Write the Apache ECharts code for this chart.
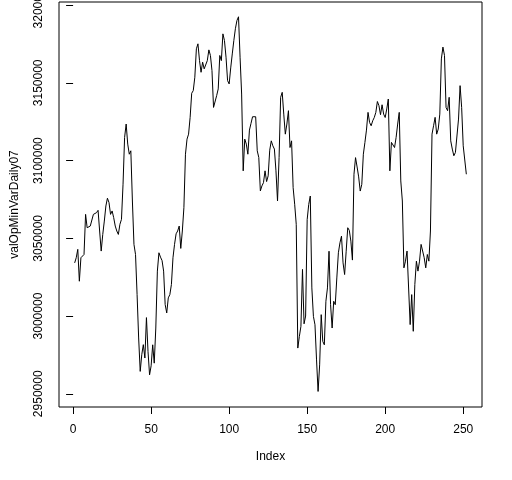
<!DOCTYPE html>
<html>
<head>
<meta charset="utf-8">
<script src="https://cdn.jsdelivr.net/npm/echarts@6/dist/echarts.min.js"></script>
<style>
html, body { margin: 0; padding: 0; background: #fff; }
#main { width: 512px; height: 480px; }
</style>
</head>
<body>
<div id="main"></div>
<script>
// values, index 1..252
let valOpMinVarDaily07 = [
    3034200, 3037500, 3042900, 3022400, 3037500, 3036400, 3039600, 3065400, 3056800, 3055800,
    3057900, 3059000, 3065400, 3065000, 3066500, 3068000, 3054700, 3041800, 3052500, 3061100,
    3070800, 3075800, 3073000, 3065400, 3067600, 3063300, 3057900, 3054700, 3052500, 3059000,
    3062200, 3084800, 3114900, 3123500, 3110600, 3104100, 3106300, 3074000, 3046100, 3039600,
    3013800, 2985900, 2964400, 2975100, 2981600, 2973000, 2999000, 2977300, 2962200, 2968000,
    2981500, 2969700, 2992300, 3028900, 3040700, 3037900, 3035700, 3028900, 3007400, 3002000,
    3011700, 3013800, 3020300, 3037500, 3046100, 3052900, 3054700, 3057900, 3043500, 3054700,
    3069700, 3104100, 3113800, 3117000, 3127800, 3143300, 3145000, 3153600, 3171900, 3175100,
    3164300, 3156800, 3163300, 3159000, 3158300, 3164300, 3171200, 3167600, 3157900, 3134200,
    3134200, 3141800, 3146100, 3167600, 3164300, 3181500, 3177200, 3166500, 3151400, 3149300,
    3159600, 3168600, 3177200, 3184800, 3190100, 3192500, 3166500, 3142800, 3093400, 3113800,
    3110600, 3104100, 3119600, 3123900, 3128200, 3127800, 3128200, 3106300, 3102000, 3080500,
    3083700, 3085800, 3093400, 3086500, 3090200, 3106700, 3112700, 3109500, 3107400, 3093400,
    3074000, 3102000, 3140700, 3143900, 3129900, 3117000, 3123500, 3132100, 3108400, 3112700,
    3082600, 3071900, 3059000, 2979400, 2986900, 2993400, 3030000, 2995000, 3000000, 3062000,
    3071800, 3077200, 3018100, 2999800, 2994400, 2971800, 2951500, 2968600, 3000900, 2983700,
    2981500, 3009500, 3018100, 3041700, 3007300, 2992300, 3009500, 3007300, 3024500, 3040700,
    3047100, 3051400, 3034200, 3026700, 3041700, 3056800, 3055100, 3048200, 3036000, 3091200,
    3101900, 3095900, 3089500, 3080400, 3084700, 3104100, 3111600, 3119600, 3131000, 3124500,
    3122400, 3125600, 3127700, 3131000, 3138000, 3135300, 3129500, 3135900, 3129900, 3127700,
    3133200, 3139600, 3093400, 3111700, 3110600, 3108400, 3114900, 3123500, 3131000, 3086900,
    3074000, 3031000, 3035300, 3041800, 3041800, 2994500, 3013800, 2990200, 3020300, 3035300,
    3028900, 3035300, 3046100, 3045000, 3037500, 3031000, 3039600, 3035300, 3054700, 3117000,
    3122400, 3127800, 3117000, 3120300, 3129900, 3165400, 3173000, 3167600, 3134200, 3132100,
    3140700, 3112700, 3107400, 3103100, 3105200, 3104100, 3126700, 3148200, 3134200, 3109500,
    3109500, 3091200
];
let xTicks = [0, 50, 100, 150, 200, 250];
let yTicks = [2950000, 3000000, 3050000, 3100000, 3150000, 3200000];

let chart = echarts.init(document.getElementById('main'), null, { renderer: 'canvas' });
let seriesData = valOpMinVarDaily07.map((v, k) => [k + 1, v]);
let font = 'Liberation Sans, Arial, sans-serif';

let option = {
    backgroundColor: '#fff',
    animation: false,
    grid: {
        left: 59,
        right: 30,
        top: 2,
        bottom: 73,
        outerBoundsMode: 'none', // keep the box where it is, labels may overflow
        containLabel: false,
        show: true,              // R style box
        borderColor: '#000',
        borderWidth: 1,
        backgroundColor: 'transparent'
    },
    xAxis: {
        type: 'value',
        min: -9.04,
        max: 262.04,
        name: 'Index',
        nameLocation: 'middle',
        nameGap: 44,
        nameTextStyle: { color: '#000', fontSize: 12, fontFamily: font },
        axisLine: { show: false },
        splitLine: { show: false },
        axisTick: {
            show: true, inside: false, length: 7,
            customValues: xTicks,
            lineStyle: { color: '#000', width: 1 }
        },
        axisLabel: {
            customValues: xTicks,
            margin: 17,
            color: '#000',
            fontSize: 12,
            fontFamily: font
        }
    },
    yAxis: {
        type: 'value',
        min: 2941500,
        max: 3202000,
        name: 'valOpMinVarDaily07',
        nameLocation: 'middle',
        nameRotate: 90,
        nameGap: 38,
        nameTextStyle: { color: '#000', fontSize: 12, fontFamily: font },
        axisLine: { show: false },
        splitLine: { show: false },
        axisTick: {
            show: true, inside: false, length: 7,
            customValues: yTicks,
            lineStyle: { color: '#000', width: 1 }
        },
        axisLabel: {
            customValues: yTicks,
            formatter: function(v){ return String(v); },
            rotate: 90,
            margin: 14,
            color: '#000',
            fontSize: 12,
            fontFamily: font
        }
    },
    series: [{
        type: 'line',
        data: seriesData,
        showSymbol: false,
        symbol: 'none',
        lineStyle: { color: '#000', width: 1 },
        silent: true
    }]
};
chart.setOption(option);
window.addEventListener('resize', function(){
    chart.resize();
});
</script>
</body>
</html>
